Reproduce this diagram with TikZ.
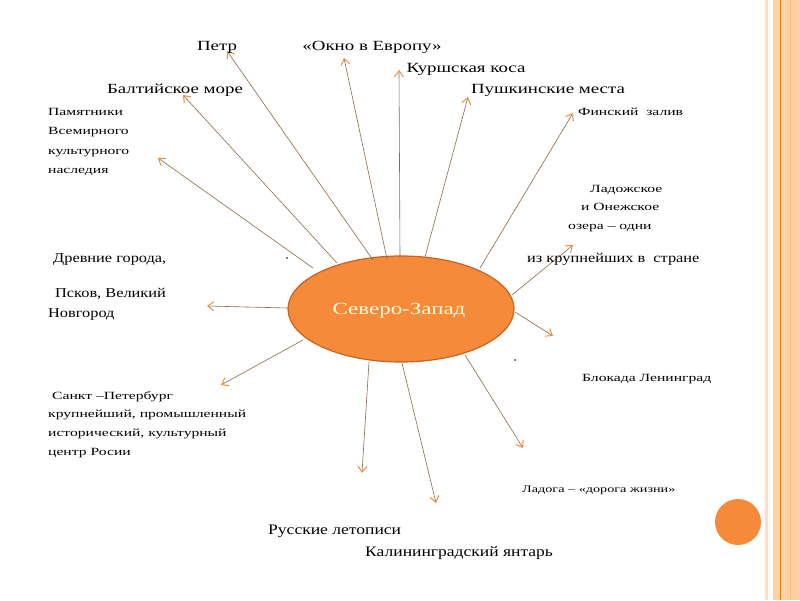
\documentclass[tikz,border=0pt]{standalone}
\usepackage{fontspec}
\setmainfont{Liberation Serif}
\newfontfamily\wideA[FakeStretch=1.35]{Liberation Serif}
\newfontfamily\wideB[FakeStretch=1.42]{Liberation Serif}
\newfontfamily\wideC[FakeStretch=1.21]{Liberation Serif}
\usetikzlibrary{arrows.meta,shapes.geometric}
\definecolor{org}{HTML}{F58A3A}
\definecolor{orgd}{HTML}{C8621E}
\definecolor{tipc}{HTML}{E89040}
\definecolor{linec}{HTML}{8A6A4A}
\tikzset{
 arr/.style={draw=linec,line width=0.6pt,-{Straight Barb[length=6pt,width=9pt,color=tipc,line width=1pt]}},
 lbl/.style={anchor=base,font=\wideA\fontsize{14}{14}\selectfont,inner sep=0pt},
 sml/.style={anchor=base west,font=\wideB\fontsize{11}{11}\selectfont,inner sep=0pt},
 big/.style={anchor=base west,font=\wideC\fontsize{13.5}{13.5}\selectfont,inner sep=0pt}
}
\begin{document}
\begin{tikzpicture}[x=1pt,y=-1pt]
\useasboundingbox (0,0) rectangle (800,600);
\fill[white] (0,0) rectangle (800,600);
% right stripes
\fill[orange!25] (765,0) rectangle (768,600);
\fill[orange!35] (773,0) rectangle (800,600);
\draw[orange!60!brown,line width=0.4pt] (780,0) -- (780,600);
\draw[orange!55,line width=0.4pt] (790,0) -- (790,600);
\node[circle,fill=org,minimum size=46pt,inner sep=0pt] (dot) at (738,522) {};
% ellipse
\node[ellipse,draw=orgd,line width=1.2pt,fill=org,minimum width=226pt,minimum height=106pt,inner sep=0pt] (e) at (401,309) {};
\node[font=\wideA\fontsize{17}{17}\selectfont,text=yellow!15] (et) at (399,311) {Северо-Запад};
% start and tip coordinates
\foreach \n/\sx/\sy/\tx/\ty in {
 petr/373/260/227/51, okno/387/259/344/58, kur/400/257/399/70, push/425/257/468/97,
 fin/480/268/573/113, balt/337/263/183/95, pam/313/268/158/158, krup/512/295/573/245,
 blok/515/312/553/336, spb/303/340/221/385, let/369/362/362/473, yan/402/363/436/503,
 lad/465/355/523/448, psk/288/308/207/306}{
 \coordinate (s\n) at (\sx,\sy);
 \coordinate (t\n) at (\tx,\ty);
 \draw[arr] (s\n) -- (t\n);
}
% labels
\node[lbl] (l1) at (217,50) {Петр};
\node[lbl] (l2) at (372,50) {«Окно в Европу»};
\node[lbl] (l3) at (466,72) {Куршская коса};
\node[lbl] (l4) at (175,93) {Балтийское море};
\node[lbl] (l5) at (548,93) {Пушкинские места};
\node[sml] (l6a) at (48,115) {Памятники};
\node[sml] (l6b) at (48,134) {Всемирного};
\node[sml] (l6c) at (48,154) {культурного};
\node[sml] (l6d) at (48,173) {наследия};
\node[sml] (l7) at (578,115) {Финский\ \ залив};
\node[sml] (l8a) at (590,192) {Ладожское};
\node[sml] (l8b) at (581,210) {и Онежское};
\node[sml] (l8c) at (568,229) {озера – одни};
\node[big] (l9) at (53,262) {Древние города,};
\node[big] (l10) at (527,262) {из крупнейших в\ \ стране};
\node[big] (l11a) at (55,297) {Псков, Великий};
\node[big] (l11b) at (48,317) {Новгород};
\node[sml] (l12) at (582,381) {Блокада Ленинград};
\node[sml] (l13a) at (52,399) {Санкт –Петербург};
\node[sml] (l13b) at (48,417) {крупнейший, промышленный};
\node[sml] (l13c) at (48,436) {исторический, культурный};
\node[sml] (l13d) at (48,455) {центр Росии};
\node[sml,font=\wideB\fontsize{10}{10}\selectfont] (l14) at (522,492) {Ладога – «дорога жизни»};
\node[big,font=\wideC\fontsize{14.5}{14.5}\selectfont] (l15) at (268,534) {Русские летописи};
\node[big,font=\wideC\fontsize{14.5}{14.5}\selectfont] (l16) at (365,556) {Калининградский янтарь};
\fill[black] (287,258) circle (0.8pt);
\fill[black] (515,360) circle (0.8pt);
\end{tikzpicture}
\end{document}
